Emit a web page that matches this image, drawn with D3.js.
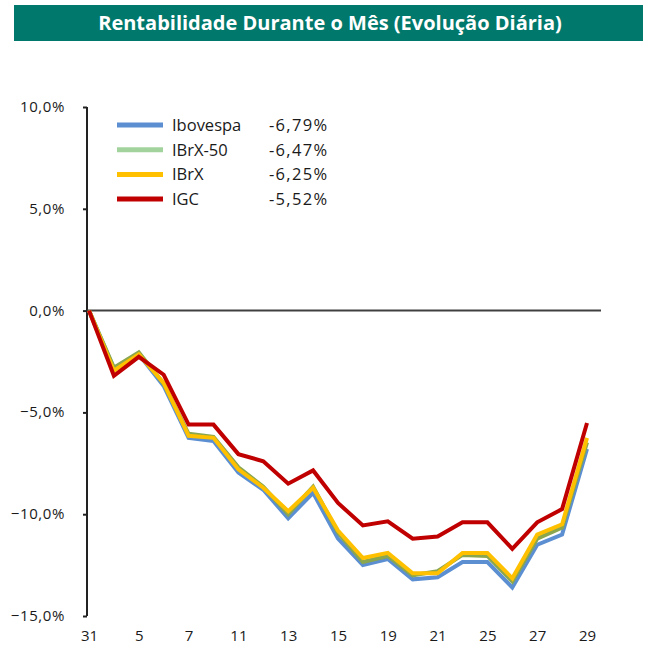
<!DOCTYPE html>
<html>
<head>
<meta charset="utf-8">
<script src="https://cdn.jsdelivr.net/npm/d3@7"></script>
<style>
  body { margin: 0; background: #fff; font-family: "Open Sans", sans-serif; }
  svg text { font-family: "Open Sans", sans-serif; fill: #1a1a1a; }
</style>
</head>
<body>
<div id="chart"></div>
<script>
// data (% return since day 31)
var days = ["31", "3", "5", "6", "7", "10", "11", "12", "13", "14", "15",
            "18", "19", "20", "21", "22", "25", "26", "27", "28", "29"];
var ibovespa = [0, -2.85, -2.15, -3.7, -6.25, -6.4, -7.95, -8.8, -10.2, -8.95, -11.2,
                -12.5, -12.2, -13.2, -13.1, -12.35, -12.35, -13.6, -11.5, -11.0, -6.79];
var ibrx50 = [0, -2.8, -2.05, -3.6, -6.05, -6.2, -7.7, -8.65, -10.0, -8.65, -10.9,
              -12.35, -12.05, -13.0, -12.8, -12.0, -12.05, -13.3, -11.2, -10.65, -6.47];
var ibrx = [0, -2.95, -2.15, -3.55, -6.15, -6.25, -7.8, -8.7, -9.85, -8.7, -10.8,
            -12.15, -11.9, -12.9, -12.9, -11.9, -11.9, -13.15, -11.0, -10.5, -6.25];
var igc = [0, -3.2, -2.27, -3.15, -5.6, -5.6, -7.05, -7.4, -8.5, -7.85, -9.45,
           -10.55, -10.35, -11.2, -11.1, -10.4, -10.4, -11.7, -10.4, -9.75, -5.52];
var seriesNames = ["Ibovespa", "IBrX-50", "IBrX", "IGC"];
var seriesFinal = ["-6,79%", "-6,47%", "-6,25%", "-5,52%"];
var yTicks = [10, 5, 0, -5, -10, -15];

var series = [
  {name: seriesNames[0], values: ibovespa, color: "#5b8fd2", key: "#5b8fd2"},
  {name: seriesNames[1], values: ibrx50, color: "#8aa64e", key: "#a3d39c"},
  {name: seriesNames[2], values: ibrx, color: "#ffc000", key: "#ffc000"},
  {name: seriesNames[3], values: igc, color: "#c00000", key: "#c00000"}
];

var W = 658, H = 649;
var svg = d3.select("#chart").append("svg")
    .attr("width", W)
    .attr("height", H);

// title bar
svg.append("rect")
    .attr("x", 14).attr("y", 5)
    .attr("width", 629).attr("height", 36)
    .attr("fill", "#00786b");
svg.append("text")
    .text("Rentabilidade Durante o Mês (Evolução Diária)")
    .attr("x", 330).attr("y", 30)
    .attr("text-anchor", "middle")
    .style("fill", "#fff")
    .style("font-size", "20px")
    .style("font-weight", "bold");

var x = d3.scalePoint()
    .domain(days)
    .range([89, 587]);

var y = d3.scaleLinear()
    .domain([-15, 10])
    .range([616, 107]);

// y axis
var yAxis = svg.append("g")
    .attr("transform", "translate(87,0)")
    .call(d3.axisLeft(y)
      .tickValues(yTicks)
      .tickSize(4)
      .tickPadding(18)
      .tickFormat(function(d){ return d3.format(".1f")(d).replace(".", ",") + "%"; }));
yAxis.select(".domain").attr("stroke", "#222").attr("stroke-width", 2)
    .attr("d", "M0," + y(10) + "V" + y(-15));
yAxis.selectAll(".tick line").attr("stroke", "#222").attr("stroke-width", 2);
yAxis.selectAll(".tick text")
    .style("font-size", "15px")
    .style("letter-spacing", "0.6px")
    .attr("dy", "0.3em");

// zero line
svg.append("line")
    .attr("x1", 87).attr("x2", 601)
    .attr("y1", y(0)).attr("y2", y(0))
    .attr("stroke", "#404040")
    .attr("stroke-width", 2);

// x labels, every other day
var xAxis = svg.append("g")
    .attr("transform", "translate(0,624)")
    .call(d3.axisBottom(x)
      .tickValues(days.filter(function(d, i){ return i % 2 == 0; }))
      .tickSize(0)
      .tickPadding(6));
xAxis.select(".domain").remove();
xAxis.selectAll(".tick text").style("font-size", "15px");

// lines
var line = d3.line()
    .x(function(d, i){ return x(days[i]); })
    .y(function(d){ return y(d); });

svg.append("g")
  .selectAll("path")
  .data(series)
  .enter()
  .append("path")
    .attr("d", function(d){ return line(d.values); })
    .attr("fill", "none")
    .attr("stroke", function(d){ return d.color; })
    .attr("stroke-width", 4)
    .attr("stroke-linejoin", "miter");

// legend
var legend = svg.append("g")
    .attr("transform", "translate(117,125)");
var rows = legend.selectAll("g")
    .data(series)
    .enter()
    .append("g")
    .attr("transform", function(d, i){ return "translate(0," + (i * 24.7) + ")"; });
rows.append("line")
    .attr("x1", 0).attr("x2", 46)
    .attr("stroke", function(d){ return d.key; })
    .attr("stroke-width", 5);
rows.append("text")
    .text(function(d){ return d.name; })
    .attr("x", 55).attr("y", 6)
    .style("font-size", "16.5px");
rows.append("text")
    .text(function(d, i){ return seriesFinal[i]; })
    .attr("x", 152).attr("y", 6)
    .style("font-size", "16.5px")
    .style("letter-spacing", "1.3px");
</script>
</body>
</html>
